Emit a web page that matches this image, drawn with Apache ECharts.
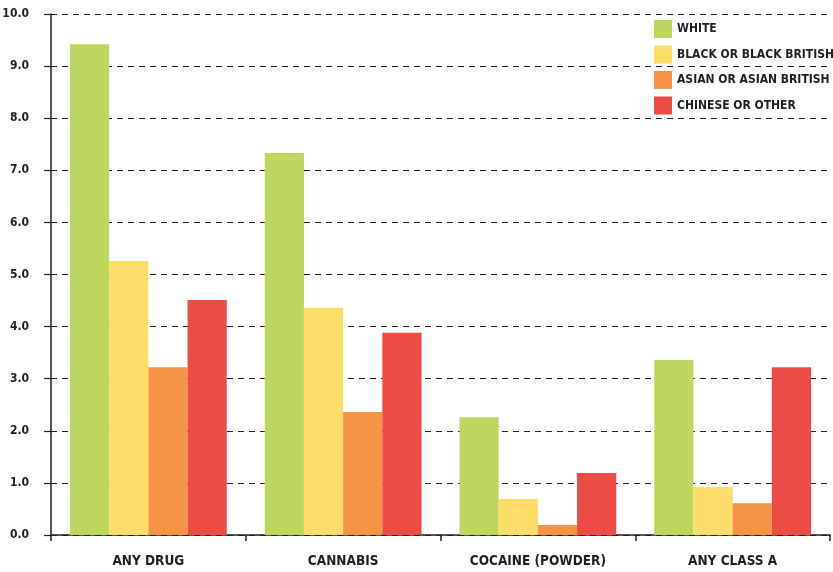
<!DOCTYPE html>
<html><head><meta charset="utf-8">
<script src="https://cdn.jsdelivr.net/npm/echarts@6/dist/echarts.min.js"></script>
<style>html,body{margin:0;padding:0;background:#fff}#c{width:833px;height:572px}</style>
</head><body><div id="c"></div>
<script>
const categories = ['ANY DRUG', 'CANNABIS', 'COCAINE (POWDER)', 'ANY CLASS A'];
const seriesNames = ['WHITE', 'BLACK OR BLACK BRITISH', 'ASIAN OR ASIAN BRITISH', 'CHINESE OR OTHER'];
const white = [9.42, 7.33, 2.26, 3.36];
const black = [5.26, 4.36, 0.69, 0.92];
const asian = [3.22, 2.36, 0.19, 0.61];
const chinese = [4.51, 3.88, 1.19, 3.22];
const colors = ['#bdd75e', '#fddd68', '#f69446', '#ec4c44'];
const values = [white, black, asian, chinese];
const font = '"DejaVu Sans Condensed", "Liberation Sans Narrow", sans-serif';

const chart = echarts.init(document.getElementById('c'));
chart.setOption({
  animation: false,
  textStyle: { fontFamily: font },
  grid: { left: 51, right: 3, top: 14, bottom: 37, containLabel: false, outerBoundsMode: 'none' },
  legend: {
    orient: 'vertical', left: 654, top: 20, itemWidth: 18, itemHeight: 18, itemGap: 7.5,
    icon: 'rect', padding: 0,
    textStyle: { fontFamily: font, fontWeight: 'bold', fontSize: 12, color: '#231f20' },
    data: seriesNames
  },
  xAxis: {
    type: 'category', data: categories,
    axisLine: { lineStyle: { color: '#231f20', width: 1.5 } },
    axisTick: { show: true, length: 6, lineStyle: { color: '#231f20', width: 1.5 } },
    axisLabel: { interval: 0, fontFamily: font, fontWeight: 'bold', fontSize: 13.5, color: '#231f20', margin: 19 }
  },
  yAxis: {
    type: 'value', min: 0, max: 10, interval: 1,
    axisLine: { show: true, lineStyle: { color: '#231f20', width: 1.5 } },
    axisTick: { show: true, length: 7, lineStyle: { color: '#231f20', width: 1.2 } },
    splitLine: { show: true, lineStyle: { color: '#231f20', type: [6, 5], width: 1.2 } },
    axisLabel: { fontFamily: font, fontWeight: 'bold', fontSize: 12, color: '#231f20', margin: 22,
      formatter: v => v.toFixed(1) }
  },
  series: seriesNames.map((n, i) => ({
    name: n, type: 'bar', data: values[i], barGap: '0%', barCategoryGap: '19.5%',
    itemStyle: { color: colors[i] }
  }))
});
</script></body></html>
